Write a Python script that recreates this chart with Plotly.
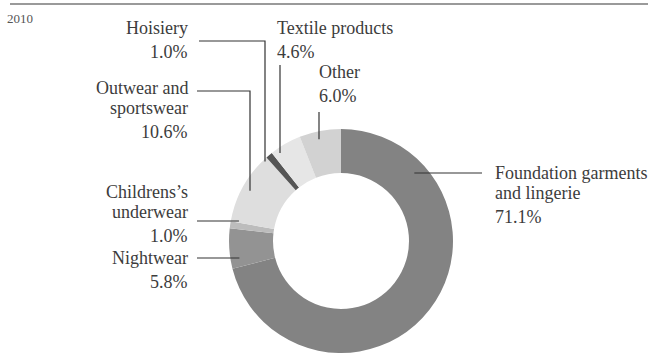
import math
import plotly.graph_objects as go

# ---- data ----
categories = ["Foundation garments<br>and lingerie", "Nightwear", "Childrens\u2019s<br>underwear",
              "Outwear and<br>sportswear", "Hoisiery", "Textile products", "Other"]
shares = [71.1, 5.8, 1.0, 10.6, 1.0, 4.6, 6.0]
year_label = "2010"

# ---- style ----
colors = ["#838383", "#939393", "#bcbcbc", "#dedede", "#555555", "#e6e6e6", "#d2d2d2"]
W, H = 648, 353
CX, CY, R, RIN = 341, 241, 112, 68
FONT = "Liberation Serif, Tinos, Times New Roman, serif"
TXT = "#3c3c3c"
LINE = "#333333"

def px(x):
    return x / W

def py(y):
    return 1 - y / H

fig = go.Figure(go.Pie(
    labels=[c.replace("<br>", " ") for c in categories],
    values=shares,
    sort=False,
    direction="clockwise",
    rotation=0,
    hole=RIN / R,
    marker=dict(colors=colors, line=dict(width=0)),
    textinfo="none",
    hoverinfo="skip",
    showlegend=False,
    domain=dict(x=[(CX - R) / W, (CX + R) / W], y=[0, (H - (CY - R)) / H]),
))

# label layout: (text x, anchor, first line y, leader spec)
layout_spec = [
    (493, "left", 173, ("h", 173, 482, 1, 100)),
    (190, "right", 258, ("h", 258, 197, -1, 103)),
    (190, "right", 192, ("h", 221, 197, -1, 104)),
    (190, "right", 88, ("hv", 91, 197, 250, 104)),
    (190, "right", 28, ("hv", 41, 199, 265, 110)),
    (275, "left", 28, ("v", 280, 65, 107)),
    (317, "left", 72, ("v", 319, 112, 104)),
]

annotations = []
shapes = []
for name, val, (tx, anchor, y0, leader) in zip(categories, shares, layout_spec):
    lines = name.split("<br>")
    for i, ln in enumerate(lines):
        annotations.append(dict(x=px(tx), y=py(y0 + 20 * i), xref="paper", yref="paper",
                                text=ln, showarrow=False, xanchor=anchor, yanchor="middle",
                                font=dict(family=FONT, size=18, color=TXT)))
    annotations.append(dict(x=px(tx), y=py(y0 + 20 * (len(lines) - 1) + 24), xref="paper",
                            yref="paper", text=f"{val:.1f}%", showarrow=False,
                            xanchor=anchor, yanchor="middle",
                            font=dict(family=FONT, size=18, color=TXT)))
    kind = leader[0]
    if kind == "h":
        _, ly, xo, side, r = leader
        xr = CX + side * math.sqrt(r * r - (ly - CY) ** 2)
        path = f"M{px(xo)},{py(ly)} L{px(xr)},{py(ly)}"
    elif kind == "hv":
        _, ly, xs, xt, r = leader
        yr = CY - math.sqrt(r * r - (xt - CX) ** 2)
        path = f"M{px(xs)},{py(ly)} L{px(xt)},{py(ly)} L{px(xt)},{py(yr)}"
    else:
        _, lx, ys, r = leader
        yr = CY - math.sqrt(r * r - (lx - CX) ** 2)
        path = f"M{px(lx)},{py(ys)} L{px(lx)},{py(yr)}"
    shapes.append(dict(type="path", path=path, xref="paper", yref="paper",
                       line=dict(color=LINE, width=1.2)))

# top rule and year
shapes.append(dict(type="line", xref="paper", yref="paper", x0=px(10), x1=1,
                   y0=py(4), y1=py(4), line=dict(color="#9a9a9a", width=2)))
annotations.append(dict(x=px(5), y=py(18), xref="paper", yref="paper", text=year_label,
                        showarrow=False, xanchor="left", yanchor="middle",
                        font=dict(family=FONT, size=13, color="#555555")))

fig.update_layout(
    width=W, height=H,
    margin=dict(l=0, r=0, t=0, b=0),
    paper_bgcolor="white", plot_bgcolor="white",
    font=dict(family=FONT),
    annotations=annotations, shapes=shapes,
)

fig.write_html("out.html")
